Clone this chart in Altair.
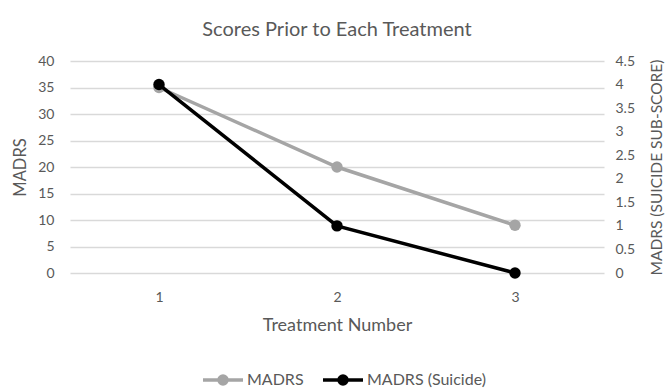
import altair as alt
import pandas as pd

treatments = ["1", "2", "3"]
madrs = [35, 20, 9]
madrs_suicide = [4, 1, 0]
series_names = ["MADRS", "MADRS (Suicide)"]
series_colors = ["#A5A5A5", "#000000"]

df = pd.DataFrame({
    "Treatment": treatments * 2,
    "value": madrs + madrs_suicide,
    "series": [series_names[0]] * 3 + [series_names[1]] * 3,
})

FONT = "Lato"
TXT = "#595959"

legend_path = ("M-1,0L1,0"
               "M0.2,0A0.2,0.2 0 1,1 -0.2,0A0.2,0.2 0 1,1 0.2,0"
               "M0.12,0A0.12,0.12 0 1,1 -0.12,0A0.12,0.12 0 1,1 0.12,0"
               "M0.05,0A0.05,0.05 0 1,1 -0.05,0A0.05,0.05 0 1,1 0.05,0")

color = alt.Color(
    "series:N",
    scale=alt.Scale(domain=series_names, range=series_colors),
    legend=alt.Legend(
        title=None, orient="none", legendX=131, legendY=297, direction="horizontal",
        symbolType=legend_path, symbolSize=1600, symbolStrokeWidth=3.5,
        labelFont=FONT, labelFontSize=16, labelColor=TXT, columnPadding=12,
        labelOffset=2,
    ),
)

x = alt.X("Treatment:O", sort=treatments,
          axis=alt.Axis(title="Treatment Number", labelAngle=0, ticks=False, domain=False,
                        labelPadding=17, titlePadding=12, titleFontSize=18, grid=False))

base = alt.Chart(df)

left = base.transform_filter(alt.datum.series == series_names[0]).mark_line(
    point=alt.OverlayMarkDef(size=130, filled=True, opacity=1), strokeWidth=3.5
).encode(
    x=x,
    y=alt.Y("value:Q", scale=alt.Scale(domain=[0, 40]),
            axis=alt.Axis(title="MADRS", values=list(range(0, 45, 5)), ticks=False, domain=False,
                          labelPadding=16, titlePadding=9, titleFontSize=16.5, grid=True)),
    color=color,
)

right = base.transform_filter(alt.datum.series == series_names[1]).mark_line(
    point=alt.OverlayMarkDef(size=130, filled=True, opacity=1), strokeWidth=3.5
).encode(
    x=x,
    y=alt.Y("value:Q", scale=alt.Scale(domain=[0, 4.5]),
            axis=alt.Axis(title="MADRS (SUICIDE SUB-SCORE)", orient="right", format=".1~f",
                          values=[i * 0.5 for i in range(10)], ticks=False, domain=False,
                          labelPadding=11, titlePadding=15, titleAngle=270, titleBaseline="top",
                          titleFontSize=15.5, grid=False)),
    color=color,
)

chart = alt.layer(left, right).resolve_scale(y="independent").properties(
    width=534, height=212,
    title=alt.TitleParams("Scores Prior to Each Treatment", font=FONT, fontSize=20,
                          color=TXT, fontWeight="normal", offset=14),
    autosize=alt.AutoSizeParams(type="none"),
    padding={"left": 70, "top": 61, "right": 65, "bottom": 115},
).configure_view(stroke=None).configure_axis(
    labelFont=FONT, labelFontSize=14, labelColor=TXT,
    titleFont=FONT, titleFontSize=14, titleColor=TXT, titleFontWeight="normal",
    gridColor="#D9D9D9", gridWidth=1.3,
)

chart.save("out.html", embed_options={"renderer": "svg", "actions": False})
